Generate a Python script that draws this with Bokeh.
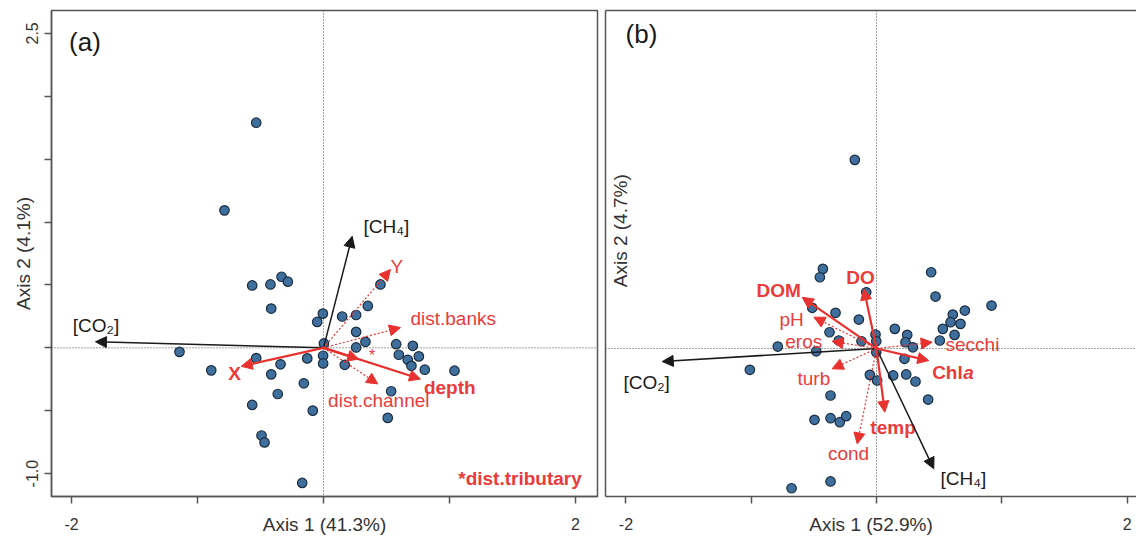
from bokeh.plotting import figure
from bokeh.models import (Arrow, NormalHead, Span, Label, FixedTicker, CustomJSTickFormatter,
                          ColumnDataSource, LinearAxis, Range1d)
from bokeh.layouts import row
from bokeh.embed import file_html
from bokeh.resources import INLINE
from bokeh.core.properties import value

FONT = "Liberation Sans"
RED = "#e8322f"
LABRED = "#ea3b3b"
BLACK = "#1a1a1a"
PT_FILL = "#3f6f9c"
PT_LINE = "#1b2d40"
BOX = "#555555"

# ---------------- Panel (a) data ----------------
a_site_x = [-0.534, -0.786, -0.566, -0.421, -0.333, -0.283, -0.415, -0.005, -0.05, 0.003,
            -1.143, -0.534, -0.129, -0.003, -0.003, -0.891, -0.341, -0.415, -0.156, -0.363,
            -0.566, -0.085, -0.492, -0.468, -0.169, 0.452, 0.352, 0.148, 0.259, 0.259,
            0.333, 0.259, 0.577, 0.709, 0.598, 0.757, 0.669, 0.698, 0.804, 1.04,
            0.169, 0.537, 0.51]
a_site_y = [1.79, 1.093, 0.496, 0.504, 0.565, 0.526, 0.312, 0.272, 0.206, 0.035,
            -0.032, -0.082, -0.084, -0.063, -0.124, -0.179, -0.131, -0.211, -0.282, -0.367,
            -0.454, -0.499, -0.697, -0.752, -1.074, 0.504, 0.333, 0.249, 0.261, 0.127,
            0.048, 0.003, 0.029, 0.016, -0.055, -0.068, -0.095, -0.143, -0.174, -0.182,
            -0.135, -0.345, -0.557]

a_resp_names = ["[CO₂]", "[CH₄]"]
a_resp_x = [-1.81, 0.228]
a_resp_y = [0.048, 0.887]

a_sig_names = ["X", "depth", "dist.tributary"]
a_sig_x = [-0.653, 0.77, 0.28]
a_sig_y = [-0.147, -0.248, -0.09]

a_ns_names = ["Y", "dist.banks", "dist.channel"]
a_ns_x = [0.532, 0.611, 0.431]
a_ns_y = [0.623, 0.161, -0.287]

# ---------------- Panel (b) data ----------------
b_site_x = [-0.173, -0.428, -0.452, -0.082, 0.436, 0.471, 0.918, 0.705, 0.609, 0.591,
            0.67, 0.529, 0.623, 0.505, -0.513, -0.327, -0.141, -0.375, -0.301, -0.12,
            -0.008, -0.002, 0.146, 0.245, 0.231, 0.29, -0.788, -0.481, -1.011, -0.002,
            0.223, -0.053, 0.005, 0.133, 0.237, 0.311, 0.412, -0.367, -0.495, -0.367,
            -0.293, -0.242, -0.367, -0.678]
b_site_y = [1.506, 0.636, 0.569, 0.449, 0.609, 0.415, 0.343, 0.303, 0.271, 0.21,
            0.197, 0.157, 0.109, 0.064, 0.325, 0.285, 0.231, 0.13, 0.064, 0.058,
            0.112, 0.058, 0.157, 0.109, 0.05, 0.01, 0.016, -0.022, -0.17, -0.03,
            -0.082, -0.21, -0.255, -0.215, -0.207, -0.263, -0.407, -0.375, -0.569, -0.556,
            -0.588, -0.54, -1.061, -1.115]

b_resp_names = ["[CO₂]", "[CH₄]"]
b_resp_x = [-1.71, 0.457]
b_resp_y = [-0.104, -0.96]

b_sig_names = ["DOM", "DO", "Chla", "temp"]
b_sig_x = [-0.593, -0.101, 0.417, 0.066]
b_sig_y = [0.409, 0.476, -0.096, -0.508]

b_ns_names = ["pH", "eros", "secchi", "turb", "cond"]
b_ns_x = [-0.5, -0.354, 0.444, -0.354, -0.154]
b_ns_y = [0.25, 0.058, 0.05, -0.162, -0.761]

# label anchors (layout)
a_lab = [  # text, x, y, align, style, color, size
    ("[CO₂]", -1.99, 0.174, "left", "normal", BLACK, "19px"),
    ("[CH₄]", 0.317, 0.966, "left", "normal", BLACK, "19px"),
    ("Y", 0.532, 0.65, "left", "normal", LABRED, "19px"),
    ("dist.banks", 0.69, 0.235, "left", "normal", LABRED, "19px"),
    ("dist.channel", 0.439, -0.42, "center", "normal", LABRED, "19px"),
    ("depth", 0.797, -0.314, "left", "bold", LABRED, "19px"),
    ("X", -0.705, -0.208, "center", "bold", LABRED, "19px"),
    ("*", 0.386, -0.06, "center", "normal", LABRED, "16px"),
    ("*dist.tributary", 2.05, -1.04, "right", "bold", LABRED, "19px"),
    ("(a)", -2.02, 2.43, "left", "normal", BLACK, "26px"),
]
b_lab = [
    ("[CO₂]", -2.02, -0.269, "left", "normal", BLACK, "19px"),
    ("[CH₄]", 0.511, -1.04, "left", "normal", BLACK, "19px"),
    ("DOM", -0.78, 0.463, "center", "bold", LABRED, "19px"),
    ("DO", -0.128, 0.564, "center", "bold", LABRED, "19px"),
    ("pH", -0.58, 0.229, "right", "normal", LABRED, "19px"),
    ("eros", -0.433, 0.058, "right", "normal", LABRED, "19px"),
    ("secchi", 0.551, 0.03, "left", "normal", LABRED, "19px"),
    ("Chl", 0.444, -0.189, "left", "bold", LABRED, "19px"),
    ("turb", -0.5, -0.242, "center", "normal", LABRED, "19px"),
    ("temp", 0.132, -0.628, "center", "bold", LABRED, "19px"),
    ("cond", -0.223, -0.835, "center", "normal", LABRED, "19px"),
    ("(b)", -2.003, 2.51, "left", "normal", BLACK, "26px"),
]


def add_arrows(p, xs, ys, color, width, dash):
    src = ColumnDataSource(dict(x0=[0.0] * len(xs), y0=[0.0] * len(xs), x1=xs, y1=ys))
    p.add_layout(Arrow(end=NormalHead(size=11, fill_color=color, line_color=color, line_width=1),
                       x_start="x0", y_start="y0", x_end="x1", y_end="y1", source=src,
                       line_color=color, line_width=width, line_dash=dash))


def add_labels(p, labs):
    for t, x, y, al, st, col, sz in labs:
        p.text(x=[x], y=[y], text=[t], text_font=value(FONT), text_font_size=sz,
               text_color=col, text_align=al, text_baseline="middle", text_font_style=st)


def style_common(p, xlabel):
    p.grid.visible = False
    p.background_fill_color = "white"
    p.border_fill_color = "white"
    for r in (p.xaxis, p.yaxis):
        r.axis_line_color = BOX
        r.axis_line_width = 1.5
        r.major_tick_line_color = BOX
        r.major_tick_line_width = 1.5
        r.minor_tick_line_color = None
        r.major_tick_in = 0
        r.major_tick_out = 7
        r.major_label_text_font = FONT
        r.major_label_text_font_size = "16px"
        r.major_label_text_color = "#333333"
        r.axis_label_text_font = FONT
        r.axis_label_text_font_size = "19px"
        r.axis_label_text_font_style = "normal"
        r.axis_label_text_color = "#333333"
    p.xaxis.ticker = FixedTicker(ticks=[-2, -1, 0, 1, 2])
    p.xaxis.formatter = CustomJSTickFormatter(code="return (tick == -2 || tick == 2) ? String(tick) : '';")
    p.xaxis.major_label_standoff = 14
    p.xaxis.axis_label = xlabel
    p.xaxis.axis_label_standoff = -19
    p.add_layout(Span(location=0, dimension="height", line_color="#444444",
                      line_dash="1 2", line_width=1))
    p.add_layout(Span(location=0, dimension="width", line_color="#444444",
                      line_dash="1 2", line_width=1))


# ---------------- Figure (a) ----------------
p1 = figure(width=601, height=541, x_range=Range1d(-2.159, 2.175), y_range=Range1d(-1.182, 2.682),
            output_backend="svg", toolbar_location=None,
            min_border_left=51, min_border_right=4, min_border_top=10, min_border_bottom=43)
style_common(p1, "Axis 1 (41.3%)")
p1.outline_line_color = BOX
p1.outline_line_width = 1.5
p1.yaxis.ticker = FixedTicker(ticks=[-1, -0.5, 0, 0.5, 1, 1.5, 2, 2.5])
p1.yaxis.formatter = CustomJSTickFormatter(
    code="return (Math.abs(tick-2.5)<1e-6 || Math.abs(tick+1)<1e-6) ? tick.toFixed(1) : '';")
p1.yaxis.major_label_orientation = "vertical"
p1.yaxis.major_label_standoff = 6
p1.yaxis.axis_label = "Axis 2 (4.1%)"
p1.yaxis.axis_label_standoff = -10

p1.scatter(a_site_x, a_site_y, size=9.5, fill_color=PT_FILL, line_color=PT_LINE, line_width=1.2)
add_arrows(p1, a_resp_x, a_resp_y, BLACK, 1.5, "solid")
add_arrows(p1, a_ns_x, a_ns_y, RED, 1.2, "2 2")
add_arrows(p1, a_sig_x, a_sig_y, RED, 2.2, "solid")
add_labels(p1, a_lab)

# ---------------- Figure (b) ----------------
p2 = figure(width=535, height=541, x_range=Range1d(-2.163, 2.075), y_range=Range1d(-1.181, 2.698),
            output_backend="svg", toolbar_location=None,
            min_border_left=4, min_border_right=0, min_border_top=10, min_border_bottom=45)
style_common(p2, "Axis 1 (52.9%)")
p2.outline_line_color = None
p2.yaxis.ticker = FixedTicker(ticks=[])
p2.yaxis.major_label_standoff = 0
top_axis = LinearAxis(ticker=FixedTicker(ticks=[]), axis_line_color=BOX, axis_line_width=1.5,
                      major_label_standoff=0, minor_tick_line_color=None)
p2.add_layout(top_axis, "above")

p2.scatter(b_site_x, b_site_y, size=9.5, fill_color=PT_FILL, line_color=PT_LINE, line_width=1.2)
add_arrows(p2, b_resp_x, b_resp_y, BLACK, 1.5, "solid")
add_arrows(p2, b_ns_x, b_ns_y, RED, 1.2, "2 2")
add_arrows(p2, b_sig_x, b_sig_y, RED, 2.2, "solid")
add_labels(p2, b_lab)
p2.text(x=[0.444], y=[-0.189], text=["a"], x_offset=31, text_font=value(FONT), text_font_size="19px",
        text_color=LABRED, text_align="left", text_baseline="middle", text_font_style="bold italic")
p2.add_layout(Label(x=-2.04, y=0.94, text="Axis 2 (4.7%)", text_font=FONT, text_font_size="19px",
                    text_color="#333333", text_align="center", text_baseline="middle", angle=1.5708))

layout = row(p1, p2)
open("out.html", "w").write(file_html(layout, INLINE))
